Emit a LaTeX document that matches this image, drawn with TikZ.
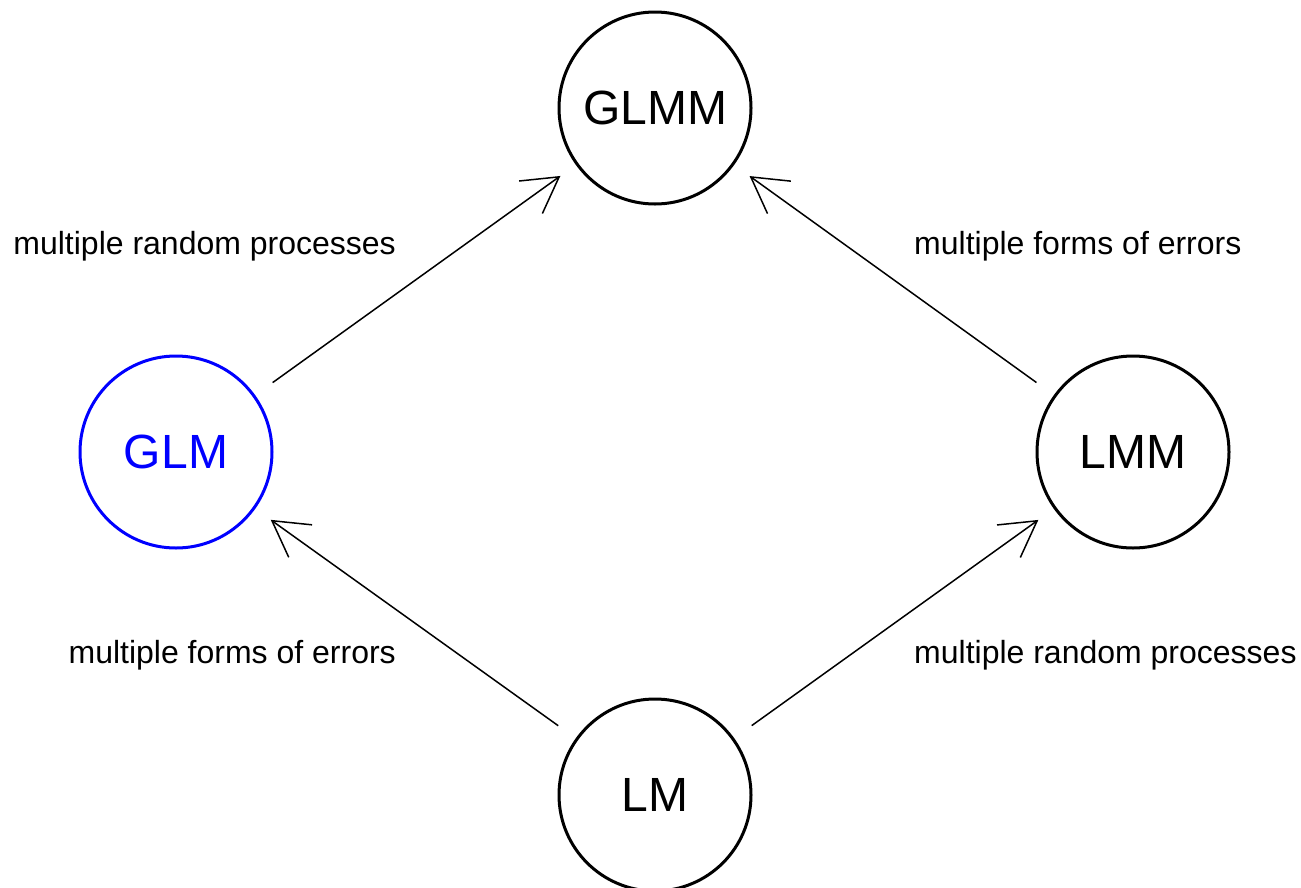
\documentclass[tikz,border=0pt]{standalone}
\usepackage{fontspec}
\setmainfont{Liberation Sans}
\usepackage{xcolor}
\usetikzlibrary{arrows.meta, positioning}
\definecolor{glmblue}{RGB}{0,0,255}

\begin{document}
\begin{tikzpicture}[
  x=1pt, y=-1pt,
  modelnode/.style={circle, draw=black, line width=3pt, minimum size=192pt, inner sep=0pt, font=\fontsize{48}{56}\selectfont},
  steplabel/.style={font=\fontsize{32}{38}\selectfont, inner sep=0pt},
  extend/.style={line width=1.5pt, -{Straight Barb[length=35pt, width=40pt, line width=1.5pt]}, shorten <=21.5pt, shorten >=19pt}
]
  \useasboundingbox (0,0) rectangle (1301,887);
  \node[modelnode] (glmm) at (655,108) {GLMM};
  \node[modelnode, draw=glmblue, text=glmblue] (glm) at (176,452) {GLM};
  \node[modelnode] (lmm) at (1133,452) {LMM};
  \node[modelnode] (lm) at (655,795) {LM};

  \draw[extend] (glm) -- (glmm);
  \draw[extend] (lmm) -- (glmm);
  \draw[extend] (lm) -- (glm);
  \draw[extend] (lm) -- (lmm);

  \node[steplabel, anchor=base east] (glmtoglmm) at (396,254) {multiple random processes};
  \node[steplabel, anchor=base west] (lmmtoglmm) at (914,254) {multiple forms of errors};
  \node[steplabel, anchor=base east] (lmtoglm) at (396,663) {multiple forms of errors};
  \node[steplabel, anchor=base west] (lmtolmm) at (914,663) {multiple random processes};
\end{tikzpicture}
\end{document}
